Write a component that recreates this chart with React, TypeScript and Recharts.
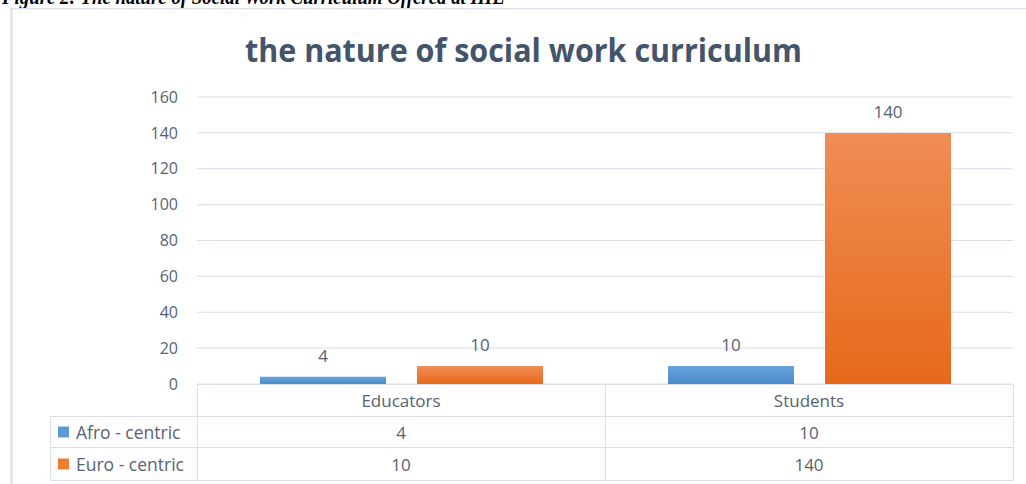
import React from 'react';
import { BarChart, Bar, XAxis, YAxis, CartesianGrid, LabelList } from 'recharts';

const categories = ['Educators', 'Students'];
const afroCentric = [4, 10];
const euroCentric = [10, 140];
const yTicks = [0, 20, 40, 60, 80, 100, 120, 140, 160];
const seriesNames = ['Afro - centric', 'Euro - centric'];
const chartTitle = 'the nature of social work curriculum';
const figureCaption = 'Figure 2: The nature of Social Work Curriculum Offered at IHE';

const data = categories.map((c, i) => ({ category: c, afro: afroCentric[i], euro: euroCentric[i] }));

const W = 1026;
const H = 484;
const PLOT_L = 197;
const PLOT_R = 1013;
const PLOT_T = 97;
const PLOT_B = 384;
const TABLE_L = 50;
const ROW_Y = [384.5, 416.5, 447.5, 480.5];
const LINE = '#dadee6';
const TEXT = '#576273';
const FONT = '"Open Sans", "Noto Sans", sans-serif';
const seriesColors = ['#5b9bd5', '#ed7d31'];

export default function App() {
  const colW = (PLOT_R - PLOT_L) / categories.length;
  const colX = categories.map((_, i) => PLOT_L + colW * i);
  const series = [afroCentric, euroCentric];
  return (
    <div style={{ position: 'absolute', left: 0, top: 0, width: W, height: H, overflow: 'hidden', background: '#fff' }}>
      <svg width={W} height={H} style={{ position: 'absolute', left: 0, top: 0 }}>
        <text x={2} y={3.5} textLength={503} lengthAdjust="spacingAndGlyphs"
          style={{ fontFamily: '"Liberation Serif", "DejaVu Serif", serif', fontWeight: 'bold', fontStyle: 'italic', fontSize: 20 }} fill="#000">
          {figureCaption}
        </text>
        <rect x={10} y={8} width={3} height={H - 8} fill="#e3e6ec" />
        <rect x={10} y={8} width={W - 10} height={1.5} fill="#e0e3e9" />
        <text x={245} y={61.5} textLength={557} lengthAdjust="spacingAndGlyphs"
          style={{ fontFamily: FONT, fontWeight: 'bold', fontSize: 32 }} fill="#44546a">
          {chartTitle}
        </text>
        {/* data table lines */}
        <line x1={PLOT_L} x2={PLOT_R} y1={ROW_Y[0]} y2={ROW_Y[0]} stroke={LINE} />
        {ROW_Y.slice(1).map((y, i) => (
          <line key={'h' + i} x1={TABLE_L} x2={PLOT_R} y1={y} y2={y} stroke={LINE} />
        ))}
        <line x1={TABLE_L + 0.5} x2={TABLE_L + 0.5} y1={ROW_Y[1]} y2={ROW_Y[3]} stroke={LINE} />
        {[...colX, PLOT_R].map((x, i) => (
          <line key={'v' + i} x1={Math.round(x) + 0.5} x2={Math.round(x) + 0.5} y1={ROW_Y[0]} y2={ROW_Y[3]} stroke={LINE} />
        ))}
        {categories.map((c, i) => (
          <text key={'c' + i} x={colX[i] + colW / 2} y={(ROW_Y[0] + ROW_Y[1]) / 2} textAnchor="middle" dominantBaseline="central"
            style={{ fontFamily: FONT, fontSize: 17 }} fill={TEXT}>{c}</text>
        ))}
        {seriesNames.map((name, r) => {
          const cy = (ROW_Y[r + 1] + ROW_Y[r + 2]) / 2;
          return (
            <g key={'r' + r}>
              <rect x={58} y={cy - 5.5} width={11} height={11} fill={seriesColors[r]} />
              <text x={76} y={cy} dominantBaseline="central" style={{ fontFamily: FONT, fontSize: 17.5 }} fill={TEXT}>{name}</text>
              {series[r].map((v, i) => (
                <text key={i} x={colX[i] + colW / 2} y={cy} textAnchor="middle" dominantBaseline="central"
                  style={{ fontFamily: FONT, fontSize: 17 }} fill={TEXT}>{v}</text>
              ))}
            </g>
          );
        })}
      </svg>
      <div style={{ position: 'absolute', left: 0, top: 0 }}>
        <BarChart width={W} height={H} data={data}
          margin={{ top: PLOT_T, right: W - PLOT_R, bottom: H - PLOT_B, left: 0 }}
          barGap={31} barCategoryGap={0}>
          <defs>
            <linearGradient id="gBlue" x1="0" y1="0" x2="0" y2="1">
              <stop offset="0%" stopColor="#67a4dc" />
              <stop offset="100%" stopColor="#4a8ac9" />
            </linearGradient>
            <linearGradient id="gOrange" x1="0" y1="0" x2="0" y2="1">
              <stop offset="0%" stopColor="#f08d55" />
              <stop offset="100%" stopColor="#e6691a" />
            </linearGradient>
          </defs>
          <CartesianGrid vertical={false} stroke={LINE} />
          <XAxis dataKey="category" hide />
          <YAxis width={PLOT_L} domain={[0, 160]} ticks={yTicks} interval={0} axisLine={false} tickLine={false}
            tickSize={0} tickMargin={19} tick={{ fill: TEXT, fontSize: 16, fontFamily: FONT }} />
          <Bar dataKey="afro" name={seriesNames[0]} fill="url(#gBlue)" barSize={126} isAnimationActive={false}>
            <LabelList dataKey="afro" position="top" offset={15} fill={TEXT} style={{ fontFamily: FONT, fontSize: 17 }} />
          </Bar>
          <Bar dataKey="euro" name={seriesNames[1]} fill="url(#gOrange)" barSize={126} isAnimationActive={false}>
            <LabelList dataKey="euro" position="top" offset={15} fill={TEXT} style={{ fontFamily: FONT, fontSize: 17 }} />
          </Bar>
        </BarChart>
      </div>
    </div>
  );
}
